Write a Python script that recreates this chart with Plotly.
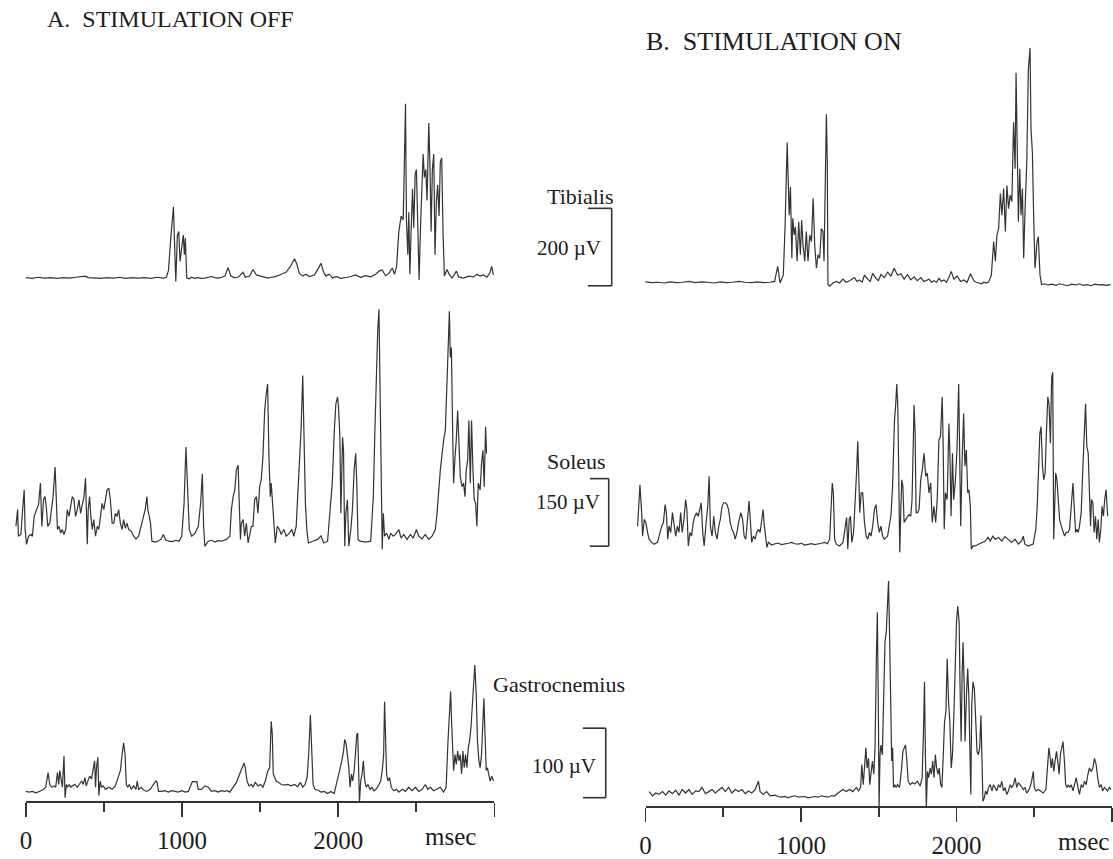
import plotly.graph_objects as go

# ---------------------------------------------------------------------------
# Rectified EMG envelopes (time in ms, amplitude in µV)
# ---------------------------------------------------------------------------
TIB_OFF = [
    (0, 1), (40, -1), (80, 2), (120, 0), (160, 1), (200, -1), (240, 1), (280, 0), (320, 2), (360, 3),
    (380, 5), (400, 1), (440, 0), (480, -1), (520, 1), (560, 0), (600, 2), (640, -1), (680, 1), (720, 0),
    (760, 1), (800, -1), (840, 2), (880, 0), (900, 2),
    (913, 20), (928, 103), (945, 184), (953, 77), (960, -9), (970, 111), (979, 120), (987, 43), (998, 86),
    (1008, 111), (1015, 60), (1021, 103), (1030, 0),
    (1045, -2), (1061, 2), (1080, -1), (1100, 1), (1120, -1), (1146, 0), (1166, 2), (1188, 4), (1210, 1),
    (1231, 0), (1255, 2), (1274, 5), (1295, 27), (1312, 5), (1335, 1), (1359, 2), (1391, 15), (1405, 2),
    (1433, 5), (1454, 22), (1476, 8), (1507, 4), (1530, 1), (1550, 0), (1570, 2), (1592, 3), (1624, 8),
    (1645, 12), (1666, 15), (1694, 30), (1720, 50), (1736, 35), (1751, 12), (1773, 5), (1794, 10),
    (1815, 4), (1847, 8), (1873, 25), (1890, 38), (1907, 15), (1921, 5), (1942, 10), (1964, 0), (1980, 3),
    (1996, 3), (2015, -1), (2038, 0), (2060, 2), (2081, 4), (2112, 8), (2144, 2), (2176, 6), (2208, 3),
    (2240, 10), (2261, 18), (2282, 21), (2303, 6), (2325, 12), (2346, 26), (2361, 10), (2374, 30),
    (2388, 120), (2403, 160), (2416, 150), (2424, 300), (2431, 450), (2437, 150), (2446, 60), (2452, 170),
    (2459, 10), (2467, 120), (2476, 230), (2484, 130), (2493, 270), (2501, 280), (2512, 60), (2518, -5),
    (2527, 130), (2535, 230), (2544, 320), (2552, 260), (2561, 280), (2569, 200), (2580, 400), (2588, 280),
    (2595, 120), (2603, 280), (2612, 320), (2620, 60), (2629, 200), (2637, 240), (2646, 160), (2654, 300),
    (2663, 310), (2671, 120), (2680, 5),
    (2697, 22), (2710, 10), (2729, 0), (2757, 18), (2771, 3), (2803, 0), (2835, 5), (2867, 3), (2888, 10),
    (2909, 5), (2930, 8), (2952, 2), (2973, 15), (2983, 30), (2994, 8),
]

TIB_ON = [
    (0, 3), (40, 1), (80, 2), (120, 0), (160, 3), (200, 1), (240, 2), (280, 4), (320, 1), (360, 3),
    (400, 2), (440, 0), (480, 3), (520, 1), (560, 2), (600, 4), (640, 2), (680, 1), (720, 3), (760, 1),
    (800, 2), (830, 4),
    (850, 43), (865, 0), (886, 21), (897, 141), (911, 363), (917, 295), (924, 175), (932, 248), (941, 64),
    (947, 167), (956, 124), (964, 145), (975, 56), (985, 158), (996, 73), (1004, 162), (1013, 98),
    (1024, 56), (1034, 133), (1045, 56), (1056, 124), (1067, 107), (1078, 218), (1088, 98), (1099, 38),
    (1109, 73), (1120, 64), (1131, 141), (1141, 133), (1148, 56), (1156, 227), (1163, 436), (1169, 312),
    (1173, -4), (1184, -8), (1205, 0),
    (1227, 4), (1248, 0), (1269, 10), (1290, 2), (1312, 6), (1344, 14), (1360, 4), (1376, 8), (1392, 2),
    (1408, 20), (1429, 10), (1445, 4), (1461, 25), (1482, 12), (1498, 6), (1514, 22), (1536, 14),
    (1557, 28), (1578, 18), (1599, 38), (1621, 20), (1642, 24), (1663, 10), (1685, 22), (1706, 8),
    (1727, 16), (1748, 6), (1770, 14), (1791, 4), (1807, 8), (1823, 10), (1840, 2), (1855, 6), (1871, 2),
    (1887, 12), (1903, 4), (1919, 8), (1935, 2), (1951, 14), (1966, 30), (1983, 10), (2004, 18),
    (2026, 4), (2047, 8), (2068, 2), (2090, 24), (2111, 6), (2127, 2), (2143, 0), (2160, -2), (2175, 2),
    (2192, 0), (2207, 3), (2224, 20),
    (2239, 107), (2250, 56), (2260, 124), (2271, 141), (2282, 231), (2292, 175), (2303, 244), (2314, 133),
    (2324, 252), (2335, 192), (2345, 227), (2356, 210), (2367, 415), (2377, 295), (2383, 543), (2390, 398),
    (2398, 158), (2407, 295), (2415, 175), (2424, 244), (2432, 64), (2441, 192), (2452, 312), (2462, 551),
    (2473, 607), (2479, 398), (2488, 338), (2496, 175), (2505, 38), (2518, 107), (2526, 120), (2537, 21),
    (2547, -4),
    (2565, -2), (2590, -5), (2615, -3), (2640, -6), (2665, -2), (2690, -4), (2715, -7), (2740, -3),
    (2765, -5), (2790, -2), (2815, -6), (2840, -4), (2865, -7), (2890, -3), (2915, -5), (2940, -4),
    (2965, -6), (2990, -4),
]

SOL_OFF = [
    (-64, 33), (-53, 70), (-48, 11), (-32, 15), (-21, 70), (-11, 114), (-5, 26), (4, -7), (17, 11),
    (32, 15), (42, 11), (53, 55), (68, 70), (81, 81), (93, 129), (102, 33), (113, 92), (123, 99),
    (132, 70), (140, 33), (153, 40), (163, 70), (174, 99), (187, 165), (195, 99), (202, 26), (212, 33),
    (223, 18), (233, 26), (244, 15), (255, 26), (265, 70), (276, 55), (287, 77), (297, 99), (308, 92),
    (318, 55), (329, 70), (340, 92), (350, 62), (361, 84), (372, 99), (382, 140), (393, -7), (399, 70),
    (408, 99), (416, 55), (425, 26), (435, 48), (446, 11), (457, 33), (467, 26), (478, 55), (488, 84),
    (499, 70), (510, 92), (520, 114), (531, 118), (541, 92), (552, 40), (563, 40), (573, 62), (584, 55),
    (594, 70), (605, 40), (616, 26), (626, 48), (637, 29), (647, 40), (658, 26), (675, 22), (690, 11),
    (705, 5), (722, 11), (739, 33), (754, 55), (764, 70), (775, 99), (781, 70), (790, 55), (798, 40),
    (807, 0),
    (830, -2), (850, 1), (865, 4), (880, 15), (895, 3), (915, 0), (940, -1), (960, 2), (980, 0), (998, 11),
    (1013, 84), (1025, 209), (1036, 99), (1046, 26), (1062, 11), (1083, 18), (1094, 26), (1104, 33),
    (1119, 84), (1130, 150), (1138, 33), (1146, -11), (1168, 0), (1190, 2), (1210, -2), (1230, 1),
    (1253, 0), (1284, 4), (1306, 11), (1316, 70), (1327, 99), (1338, 114), (1348, 158), (1359, 169),
    (1365, 99), (1374, 4), (1380, 40), (1391, 48), (1401, 11), (1412, 40), (1423, -4), (1433, 11),
    (1444, 33), (1454, 33), (1465, 92), (1476, 99), (1486, 62), (1497, 121), (1507, 136), (1518, 187),
    (1529, 290), (1539, 327), (1548, 349), (1556, 195), (1565, 99), (1571, 129), (1580, 77), (1588, 40),
    (1597, -4), (1610, 33), (1624, 26), (1635, 15), (1652, 26), (1667, 11), (1688, 18), (1703, 26),
    (1716, 11), (1731, 33), (1741, 99), (1752, 158), (1762, 246), (1773, 368), (1782, 224), (1790, 84),
    (1799, 26), (1809, -4), (1837, 0), (1869, 4), (1890, 12), (1907, -4), (1932, 0), (1949, 84),
    (1962, 129), (1975, 246), (1985, 305), (1996, 320), (2002, 298), (2011, 231), (2017, 62), (2028, 231),
    (2034, 202), (2042, -11), (2049, 62), (2059, 92), (2068, -11), (2081, 26), (2091, 70), (2102, 158),
    (2112, 195), (2119, 129), (2127, 4), (2140, 0), (2176, -2), (2208, 0), (2225, 99), (2235, 246),
    (2244, 393), (2253, 467), (2261, 515), (2270, 320), (2276, 99), (2282, -18), (2289, 62), (2297, 11),
    (2310, 18), (2325, 4), (2335, 18), (2352, 11), (2367, 15), (2388, 26), (2403, 7), (2420, 15),
    (2441, 4), (2463, 15), (2480, 7), (2501, 26), (2516, 11), (2537, 5), (2558, 15), (2580, 4),
    (2601, 11), (2622, 26), (2633, 62), (2654, 158), (2675, 224), (2686, 246), (2697, 356), (2705, 452),
    (2712, 511), (2718, 408), (2725, 430), (2731, 283), (2739, 129), (2748, 187), (2756, 224), (2765, 290),
    (2773, 224), (2782, 143), (2793, 121), (2803, 129), (2812, 99), (2820, 158), (2829, 180), (2837, 268),
    (2846, 129), (2854, 268), (2863, 158), (2871, 92), (2880, 84), (2888, 33), (2897, 129), (2909, 114),
    (2918, 173), (2927, 202), (2935, 121), (2944, 254), (2950, 195),
]

SOL_ON = [
    (-51, 40), (-36, 132), (-25, 70), (-19, 18), (-8, 55), (2, 48), (13, 26), (23, 11), (40, 4), (55, 0),
    (77, 4), (92, 26), (104, 40), (115, 48), (126, 88), (134, 70), (143, 11), (151, 40), (162, 26),
    (173, 70), (183, 48), (194, 18), (205, 40), (215, 26), (226, 70), (236, 26), (247, 55), (258, 99),
    (266, 77), (275, -4), (286, 26), (296, 18), (307, 48), (317, 62), (328, 70), (339, 62), (349, 77),
    (358, 92), (368, 26), (377, -4), (390, 48), (400, 84), (409, 151), (417, 40), (428, 18), (439, 62),
    (449, 26), (460, 11), (471, 40), (481, 55), (492, 84), (503, 92), (513, 92), (524, 88), (534, 77),
    (545, 48), (556, 33), (566, 26), (577, 11), (588, 26), (598, 48), (613, 70), (624, 55), (634, 18),
    (645, 11), (656, 48), (666, 96), (675, 48), (683, 4), (694, 18), (705, 11), (715, 26), (726, 33),
    (737, 26), (747, 55), (756, 77), (764, 40), (773, 11), (781, -7), (790, 4), (811, -2), (833, 1),
    (854, 2), (875, -1), (896, 0), (918, 2), (939, 4), (960, 1), (982, 0), (1003, 2), (1024, -2),
    (1045, 0), (1067, 1), (1088, -1), (1109, 0), (1130, 2), (1152, 4), (1170, 1), (1184, 11), (1195, 99),
    (1201, 136), (1208, 114), (1216, 11), (1227, 0), (1248, -4), (1270, 4), (1284, 40), (1293, 59),
    (1301, -11), (1310, 55), (1318, 62), (1327, 4), (1338, 26), (1348, 84), (1357, 158), (1365, 228),
    (1372, 136), (1378, 70), (1387, 114), (1397, 114), (1408, 48), (1419, 18), (1429, 11), (1440, 26),
    (1450, 18), (1461, 40), (1472, 77), (1482, 88), (1493, 48), (1504, 26), (1514, 40), (1525, 18),
    (1535, 11), (1546, 15), (1557, 18), (1567, 40), (1578, 62), (1589, 129), (1595, 232), (1601, 276),
    (1608, 305), (1616, 356), (1623, 298), (1629, 99), (1635, -18), (1642, 77), (1648, 143), (1655, 129),
    (1663, 48), (1674, 55), (1684, 62), (1695, 66), (1706, 62), (1714, 99), (1721, 209), (1727, 309),
    (1734, 246), (1740, 70), (1749, 70), (1759, 77), (1770, 143), (1780, 165), (1791, 202), (1802, 151),
    (1812, 158), (1823, 114), (1834, 136), (1844, 48), (1855, 84), (1866, 48), (1876, 99), (1887, 232),
    (1897, 239), (1908, 327), (1914, 224), (1921, 33), (1929, 114), (1940, 99), (1951, 268), (1957, 209),
    (1965, 62), (1974, 202), (1982, 99), (1993, 143), (2003, 209), (2014, 356), (2020, 209), (2027, 40),
    (2035, 173), (2046, 290), (2054, 173), (2063, 209), (2072, 114), (2080, 121), (2089, 84), (2095, -11),
    (2106, -4), (2121, -4), (2142, 0), (2163, 4), (2185, 7), (2202, 15), (2217, 7), (2234, 18),
    (2249, 11), (2270, 15), (2291, 7), (2312, 17), (2334, 11), (2355, 4), (2376, 11), (2398, 0),
    (2419, 7), (2429, 18), (2440, 0), (2461, -4), (2493, 0), (2510, 33), (2519, 84), (2527, 173),
    (2536, 246), (2544, 261), (2553, 173), (2561, 143), (2570, 158), (2578, 246), (2587, 327), (2595, 312),
    (2604, 224), (2612, 371), (2619, 382), (2625, 11), (2632, 129), (2638, 158), (2646, 143), (2655, 99),
    (2663, 55), (2674, 40), (2685, 26), (2695, 18), (2706, 26), (2717, 26), (2727, 33), (2738, 92),
    (2749, 136), (2757, 84), (2766, 26), (2774, 33), (2783, 26), (2791, 40), (2802, 70), (2813, 173),
    (2821, 246), (2830, 312), (2838, 217), (2847, 202), (2855, 114), (2862, 40), (2868, 99), (2877, 92),
    (2885, 26), (2894, 62), (2902, 11), (2911, 55), (2919, 4), (2928, 33), (2936, 84), (2945, 62),
    (2953, 99), (2962, 121), (2972, 62),
]

GAS_OFF = [
    (0, 0), (21, -1), (42, 0), (64, -2), (85, 0), (106, 2), (127, 6), (142, 27), (153, 10), (166, 6),
    (180, 8), (191, 6), (202, 27), (210, 10), (217, 30), (225, 15), (234, 6), (244, 51), (251, -9),
    (259, 10), (267, 6), (276, 10), (287, 6), (297, 8), (314, 10), (329, 6), (344, 10), (357, 15),
    (367, 10), (378, 20), (386, 8), (397, 15), (408, 22), (420, 18), (431, 30), (440, 44), (446, 6),
    (452, 34), (461, 49), (467, -6), (476, 15), (484, 6), (495, 8), (510, 3), (531, 6), (552, 3), (573, 8),
    (590, 20), (605, 30), (616, 53), (626, 70), (635, 53), (643, 10), (652, 6), (662, 10), (675, 3),
    (690, 8), (705, 3), (713, 15), (722, 3), (739, 6), (754, 2), (775, 0), (796, 3), (817, 10), (832, 15),
    (841, 13), (849, 0), (870, 0), (890, 1), (913, -1), (935, 1), (955, 0), (975, -1), (998, 1),
    (1020, -1), (1040, 0), (1055, 8), (1066, 14), (1083, 14), (1094, 14), (1104, 3), (1125, 3), (1146, 8),
    (1168, 6), (1189, 0), (1210, 1), (1231, -1), (1252, 1), (1274, 0), (1290, 1), (1306, -1), (1327, 6),
    (1348, 13), (1369, 25), (1384, 34), (1397, 41), (1405, 34), (1416, 15), (1429, 8), (1444, 10),
    (1454, 6), (1469, 13), (1486, 8), (1503, 10), (1518, 6), (1533, 15), (1550, 30), (1561, 34),
    (1571, 101), (1578, 82), (1584, 25), (1593, 20), (1603, 15), (1618, 13), (1635, 10), (1656, 9),
    (1677, 10), (1699, 8), (1720, 10), (1741, 7), (1758, 13), (1773, 6), (1788, 10), (1801, 20),
    (1811, 53), (1822, 110), (1830, 72), (1839, 10), (1851, 3), (1868, 2), (1890, -1), (1911, 0),
    (1932, -3), (1953, 0), (1974, -3), (1989, 10), (2000, 20), (2013, 34), (2023, 44), (2034, 58),
    (2042, 75), (2051, 68), (2059, 53), (2068, 34), (2076, 6), (2085, 25), (2093, 15), (2102, 30),
    (2110, 53), (2119, 82), (2125, 84), (2132, 6), (2136, -16), (2144, 15), (2153, 25), (2161, 44),
    (2170, 15), (2180, 6), (2191, 10), (2204, 3), (2216, 6), (2229, 1), (2246, 4), (2261, 10), (2272, 15),
    (2282, 30), (2291, 53), (2297, 129), (2303, 91), (2310, 25), (2318, 15), (2329, 20), (2340, 6),
    (2357, 1), (2374, 3), (2388, -1), (2410, 3), (2431, 0), (2452, 6), (2473, 1), (2495, 6), (2516, 0),
    (2537, 3), (2558, 10), (2573, 3), (2590, 6), (2611, 1), (2633, 3), (2654, 6), (2675, -1), (2691, 6),
    (2703, 72), (2711, 101), (2720, 144), (2726, 101), (2733, 53), (2739, 30), (2748, 53), (2756, 39),
    (2765, 58), (2773, 44), (2782, 53), (2790, 25), (2799, 58), (2807, 34), (2816, 53), (2824, 34),
    (2833, 63), (2841, 72), (2850, 91), (2858, 120), (2867, 158), (2875, 182), (2884, 139), (2892, 72),
    (2901, 44), (2909, 34), (2918, 53), (2927, 91), (2933, 134), (2939, 91), (2948, 30), (2956, 34),
    (2965, 25), (2973, 15), (2984, 22), (2994, 15),
]

GAS_ON = [
    (23, 4), (45, -2), (66, 2), (87, 0), (109, 4), (130, -1), (151, 5), (173, 1), (194, 6), (215, -1),
    (236, 7), (258, 2), (279, 7), (300, 0), (322, 5), (343, 4), (364, 10), (385, 1), (407, 4), (428, 7),
    (449, 2), (471, 6), (492, 10), (513, 4), (534, 10), (556, 2), (577, 7), (598, 4), (620, 7), (641, 1),
    (662, 5), (683, 2), (705, 7), (726, 19), (737, 4), (758, 0), (779, 4), (801, -2), (833, -1),
    (854, -3), (875, -4), (896, -3), (918, -5), (939, -3), (960, -2), (982, -4), (1003, -4), (1024, -3),
    (1045, -5), (1067, -4), (1088, -3), (1109, -4), (1131, -2), (1152, -3), (1173, -4), (1195, -2),
    (1216, -2), (1232, 1), (1248, 4), (1269, 7), (1291, 4), (1312, 7), (1333, 4), (1355, 10), (1370, 5),
    (1383, 10), (1391, 43), (1400, 14), (1408, 38), (1417, 67), (1425, 38), (1434, 52), (1442, 14),
    (1451, 38), (1459, 48), (1468, 29), (1476, 67), (1485, 200), (1491, 262), (1498, 105), (1502, -19),
    (1508, 57), (1514, 71), (1523, 57), (1532, 143), (1540, 219), (1548, 233), (1557, 271), (1563, 307),
    (1570, 224), (1576, 138), (1583, 48), (1589, 67), (1595, 10), (1604, 14), (1612, 10), (1621, 14),
    (1634, 10), (1647, 38), (1655, 62), (1664, 67), (1672, 71), (1681, 48), (1689, 19), (1702, 14),
    (1717, 17), (1732, 15), (1749, 19), (1766, 12), (1779, 24), (1787, 86), (1794, 162), (1800, 57),
    (1806, -19), (1813, 33), (1821, 24), (1830, 38), (1838, 29), (1847, 48), (1855, 24), (1864, 57),
    (1872, 38), (1881, 29), (1889, 38), (1898, 14), (1906, 10), (1915, 57), (1923, 105), (1932, 119),
    (1940, 195), (1949, 133), (1957, 105), (1966, 38), (1974, 57), (1983, 114), (1991, 186), (2000, 248),
    (2008, 271), (2017, 248), (2023, 152), (2030, 76), (2036, 171), (2042, 219), (2049, 162), (2055, 76),
    (2064, 143), (2072, 181), (2079, 143), (2085, 57), (2092, 0), (2098, 129), (2106, 162), (2115, 152),
    (2123, 105), (2132, 62), (2140, 57), (2149, 67), (2157, 114), (2164, 57), (2170, -10), (2179, -5),
    (2187, 5), (2196, 0), (2206, 10), (2217, 14), (2228, 5), (2238, 14), (2249, 10), (2259, 5),
    (2270, 14), (2281, 10), (2291, 19), (2302, 5), (2313, 10), (2323, 0), (2334, 5), (2345, 14),
    (2355, 10), (2366, 14), (2377, 24), (2387, 10), (2398, 17), (2409, 14), (2419, 10), (2430, 7),
    (2441, 10), (2451, 2), (2462, 5), (2472, 10), (2483, 19), (2494, 33), (2500, 10), (2511, 5),
    (2526, 7), (2541, 4), (2558, 2), (2575, 7), (2585, 38), (2594, 67), (2600, 57), (2609, 38),
    (2617, 52), (2626, 33), (2634, 48), (2643, 62), (2651, 48), (2660, 29), (2668, 57), (2677, 67),
    (2685, 76), (2694, 48), (2702, 14), (2711, 10), (2719, 14), (2728, 10), (2738, 14), (2749, 5),
    (2760, 14), (2770, 24), (2781, 10), (2791, 0), (2802, 14), (2813, 10), (2823, 19), (2834, 14),
    (2845, 29), (2855, 38), (2866, 33), (2877, 38), (2887, 52), (2898, 43), (2908, 24), (2919, 10),
    (2930, 14), (2940, 5), (2951, 10), (2962, 7), (2972, 5), (2983, 10), (2994, 7),
]

MUSCLES = ["Tibialis", "Soleus", "Gastrocnemius"]
SCALE_UV = {"Tibialis": 200, "Soleus": 150, "Gastrocnemius": 100}
PANEL_TITLES = {"A": "A.  STIMULATION OFF", "B": "B.  STIMULATION ON"}
TIME_TICKS = [0, 1000, 2000, 3000]
TIME_LABELS = ["0", "1000", "2000", ""]
TIME_MINOR = [500, 1500, 2500]
TIME_UNIT = "msec"
RECORDS = {
    ("A", "Tibialis"): TIB_OFF, ("A", "Soleus"): SOL_OFF, ("A", "Gastrocnemius"): GAS_OFF,
    ("B", "Tibialis"): TIB_ON, ("B", "Soleus"): SOL_ON, ("B", "Gastrocnemius"): GAS_ON,
}

# ---------------------------------------------------------------------------
# Page geometry (pixels from the top-left corner)
# ---------------------------------------------------------------------------
W, H = 1113, 859
FONT = "Liberation Serif"
INK = "#333333"
TEXT = "#1c1c1c"

ZERO_PX = {"A": 20.0, "B": 643.0}          # x pixel of t = 0
PX_PER_MS = {"A": 0.157, "B": 0.15633}
PANEL_DOMAIN = {"A": (0.0, 0.5), "B": (0.5, 1.0)}
AXIS_Y_PX = {"A": 807, "B": 812}
BASELINE_PX = {
    ("A", "Tibialis"): 280, ("A", "Soleus"): 545, ("A", "Gastrocnemius"): 797,
    ("B", "Tibialis"): 285, ("B", "Soleus"): 548, ("B", "Gastrocnemius"): 800,
}
BAR_PX = {"Tibialis": 78, "Soleus": 68, "Gastrocnemius": 70}   # length of each calibration bar


def gain(m):
    return BAR_PX[m] / SCALE_UV[m]          # px per µV


def px(xp):
    return xp / W


def py(yp):
    return 1 - yp / H


fig = go.Figure()
layout = dict(
    width=W, height=H, margin=dict(l=0, r=0, t=0, b=0),
    paper_bgcolor="white", plot_bgcolor="rgba(0,0,0,0)",
    showlegend=False, hovermode=False,
)

# trace x axes: x (panel A), x2 (panel B)
xname = {"A": "x", "B": "x2"}
for p in ("A", "B"):
    d0, d1 = PANEL_DOMAIN[p]
    lo = (d0 * W - ZERO_PX[p]) / PX_PER_MS[p]
    hi = (d1 * W - ZERO_PX[p]) / PX_PER_MS[p]
    key = "xaxis" if p == "A" else "xaxis2"
    layout[key] = dict(domain=[d0, d1], range=[lo, hi], visible=False, fixedrange=True,
                       anchor="y" if p == "A" else "y4")

# one y axis per recording, full page height, scaled in µV
yname = {}
n = 1
for p in ("A", "B"):
    for m in MUSCLES:
        b = BASELINE_PX[(p, m)]
        g = gain(m)
        key = "yaxis" if n == 1 else f"yaxis{n}"
        layout[key] = dict(domain=[0, 1], range=[-(H - b) / g, b / g], visible=False,
                           fixedrange=True, anchor=xname[p])
        yname[(p, m)] = "y" if n == 1 else f"y{n}"
        n += 1

for (p, m), rec in RECORDS.items():
    t = [r[0] for r in rec]
    v = [r[1] for r in rec]
    fig.add_trace(go.Scatter(
        x=t, y=v, mode="lines", xaxis=xname[p], yaxis=yname[(p, m)],
        line=dict(color=INK, width=1.2), hoverinfo="skip",
    ))

# time axes with major / minor ticks
for i, p in enumerate(("A", "B")):
    xa = f"x{3 + i}"
    ya = f"y{7 + i}"
    x0 = ZERO_PX[p]
    x1 = ZERO_PX[p] + 3000 * PX_PER_MS[p]
    yb = py(AXIS_Y_PX[p])
    layout[f"yaxis{7 + i}"] = dict(domain=[yb, yb + 0.01], range=[0, 1], visible=False,
                                   fixedrange=True, anchor=xa)
    layout[f"xaxis{3 + i}"] = dict(
        domain=[px(x0), min(px(x1), 1.0)], range=[0, 3000], anchor=ya,
        showline=True, linecolor=INK, linewidth=1.6, showgrid=False, zeroline=False,
        ticks="outside", ticklen=14, tickwidth=1.6, tickcolor=INK,
        tickmode="array", tickvals=TIME_TICKS, ticktext=TIME_LABELS,
        tickfont=dict(family=FONT, size=25, color=TEXT), ticklabelstandoff=2,
        minor=dict(tickmode="array", tickvals=TIME_MINOR, ticks="outside", ticklen=9,
                   tickwidth=1.6, tickcolor=INK, showgrid=False),
        fixedrange=True,
    )
    fig.add_trace(go.Scatter(x=[0, 3000], y=[0.5, 0.5], mode="lines", xaxis=xa, yaxis=ya,
                             line=dict(width=0), hoverinfo="skip"))

annotations = []
shapes = []


def label(text, xp, yp, size=23):
    annotations.append(dict(text=text, x=px(xp), y=py(yp), xref="paper", yref="paper",
                            xanchor="center", yanchor="middle", showarrow=False,
                            font=dict(family=FONT, size=size, color=TEXT)))


label(PANEL_TITLES["A"], 165, 19, size=24)
label(PANEL_TITLES["B"], 772, 42, size=26)
label(TIME_UNIT, 447, 842, size=25)
label(TIME_UNIT, 1083, 847, size=25)

# muscle names and calibration bars (bars drawn on the panel-A µV axes)
NAME_POS = {"Tibialis": (577, 198), "Soleus": (574, 465), "Gastrocnemius": (556, 689)}
BAR_TEXT_POS = {"Tibialis": (566, 250), "Soleus": (565, 506), "Gastrocnemius": (561, 771)}
BAR_X = {"Tibialis": (585, 609), "Soleus": (587, 606), "Gastrocnemius": (580, 603)}
BAR_START_UV = {"Tibialis": -20, "Soleus": -11, "Gastrocnemius": -9}

for m in MUSCLES:
    label(m, *NAME_POS[m], size=22)
    label(f"{SCALE_UV[m]} µV", *BAR_TEXT_POS[m], size=21)
    xa, xb = BAR_X[m]
    v0 = BAR_START_UV[m]
    v1 = v0 + SCALE_UV[m]
    ya = yname[("A", m)]
    line = dict(color=INK, width=1.6)
    shapes.append(dict(type="line", xref="paper", yref=ya, x0=px(xb), x1=px(xb), y0=v0, y1=v1, line=line))
    shapes.append(dict(type="line", xref="paper", yref=ya, x0=px(xa), x1=px(xb), y0=v0, y1=v0, line=line))
    shapes.append(dict(type="line", xref="paper", yref=ya, x0=px(xa), x1=px(xb), y0=v1, y1=v1, line=line))

layout["annotations"] = annotations
layout["shapes"] = shapes
fig.update_layout(**layout)

fig.write_html("out.html", config={"displayModeBar": False, "staticPlot": True})
